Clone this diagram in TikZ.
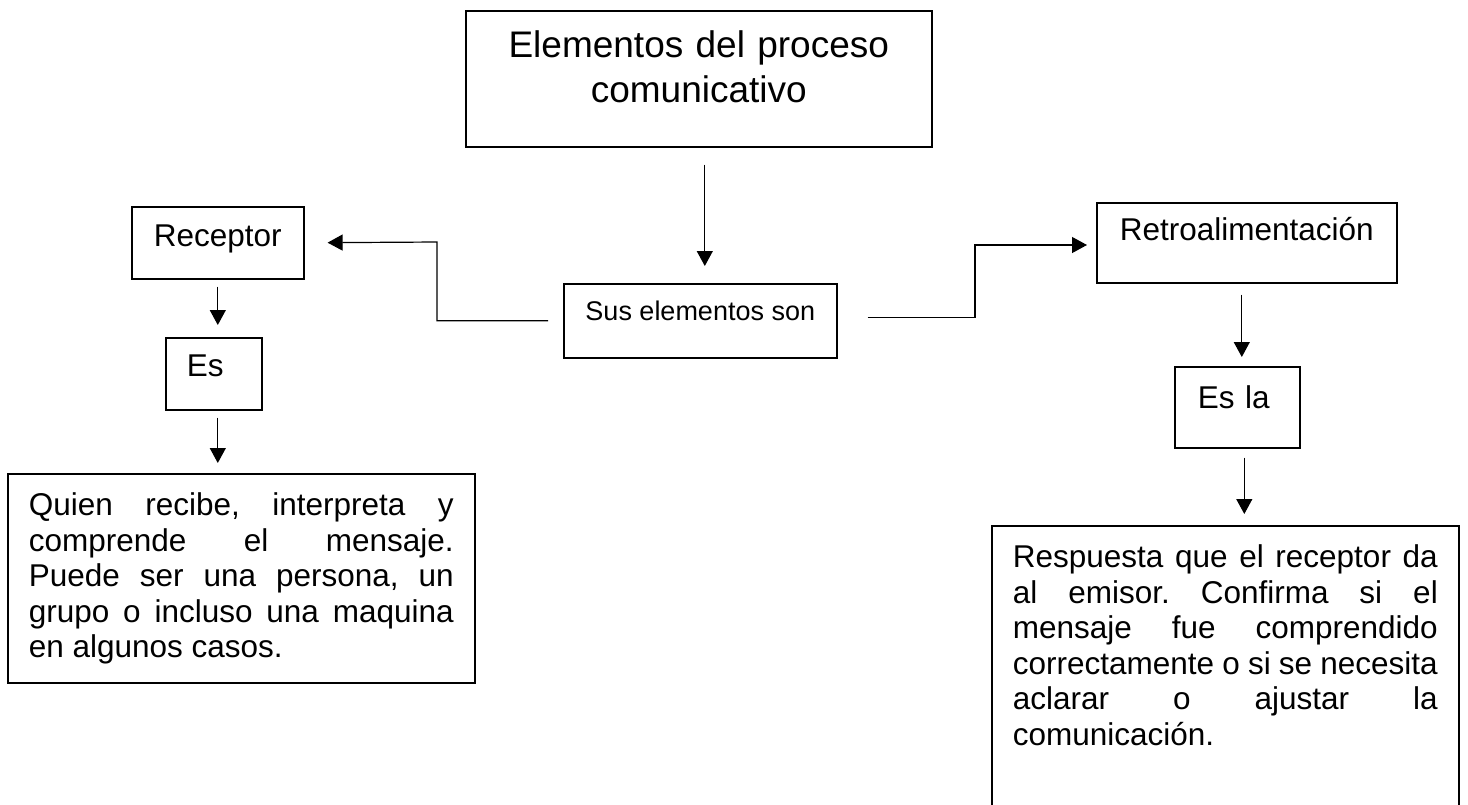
\documentclass[tikz,border=0pt]{standalone}
\usepackage{fontspec}
\setmainfont{Liberation Sans}
\usetikzlibrary{arrows.meta,positioning,calc}

\begin{document}
\begin{tikzpicture}[x=1pt, y=-1pt]
    \tikzstyle{caja} = [rectangle, draw, line width=1.6pt, inner sep=0pt, anchor=north west]
    \tikzstyle{cuerpo} = [font=\fontsize{31.5}{35.5}\selectfont\frenchspacing]
    \tikzstyle{flecha} = [line width=1.2pt, -{Triangle[length=15pt, width=16pt]}]

    \useasboundingbox (0,0) rectangle (1468,804);
    \clip (0,0) rectangle (1468,804);

    % Cajas
    \node[caja, minimum width=466, text width=466, align=center, text height=47, text depth=89,
          font=\fontsize{37}{45}\selectfont] (titulo) at (465,10) {Elementos del proceso\\comunicativo};
    \node[caja, minimum width=273, text height=37, text depth=37,
          font=\fontsize{27}{30}\selectfont] (sus) at (563,283) {Sus elementos son};

    \node[caja, cuerpo, minimum width=172, text height=40, text depth=32] (receptor) at (131,206) {Receptor};
    \node[caja, cuerpo, minimum width=96, text width=54, align=left, text height=39, text depth=33] (es) at (165,337) {Es};
    \node[caja, cuerpo, minimum width=467, text width=425, align=justify, text height=42, text depth=167] (quien) at (7,473)
        {\makebox[425pt][s]{Quien recibe, interpreta y}\\
         \makebox[425pt][s]{comprende el mensaje.}\\
         \makebox[425pt][s]{Puede ser una persona, un}\\
         \makebox[425pt][s]{grupo o incluso una maquina}\\
         en algunos casos.};

    \node[caja, cuerpo, minimum width=300, text height=38, text depth=42] (retro) at (1096,202) {Retroalimentación};
    \node[caja, cuerpo, minimum width=125, text width=79, align=left, text height=42, text depth=39] (esla) at (1174,366) {Es la};
    \node[caja, cuerpo, minimum width=467, text width=425, align=justify, text height=42, text depth=300] (respuesta) at (991,525)
        {\makebox[425pt][s]{Respuesta que el receptor da}\\
         \makebox[425pt][s]{al emisor. Confirma si el}\\
         \makebox[425pt][s]{mensaje fue comprendido}\\
         \makebox[425pt][s]{correctamente o si se necesita}\\
         \makebox[425pt][s]{aclarar o ajustar la}\\
         comunicación.};

    % Codos
    \coordinate (codoizq) at (437,242);
    \coordinate (cododer) at (975,245);

    % Flechas
    \draw[flecha, shorten <=17pt, shorten >=17pt] ([xshift=6pt]titulo.south) -- ([xshift=6pt]titulo.south |- sus.north);
    \draw[flecha, shorten <=15pt, shorten >=23pt] (sus.west) -| (codoizq) -- (receptor.east);
    \draw[flecha, shorten <=30pt, shorten >=9pt] ([yshift=3pt]sus.east) -| (cododer) -- (cododer -| retro.west);

    \draw[flecha, shorten <=7pt, shorten >=12pt] (receptor.south) -- (receptor.south |- es.north);
    \draw[flecha, shorten <=7pt, shorten >=10pt] ([xshift=4pt]es.south) -- ([xshift=4pt]es.south |- quien.north);
    \draw[flecha, shorten <=11pt, shorten >=9pt] ([xshift=-5pt]retro.south) -- ([xshift=-5pt]retro.south |- esla.north);
    \draw[flecha, shorten <=9pt, shorten >=11pt] ([xshift=7pt]esla.south) -- ([xshift=7pt]esla.south |- respuesta.north);
\end{tikzpicture}
\end{document}
